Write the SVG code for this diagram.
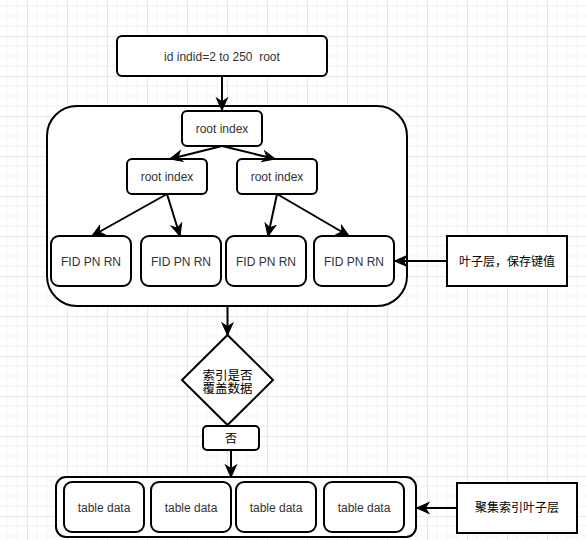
<svg xmlns="http://www.w3.org/2000/svg" width="586" height="540" viewBox="0 0 586 540">
<defs>
<pattern id="grid" patternUnits="userSpaceOnUse" x="27" y="36" width="40" height="40">
<path d="M10,0V40M20,0V40M30,0V40M0,10H40M0,20H40M0,30H40" stroke="#f3f3f3" stroke-width="1" fill="none"/>
<path d="M0.5,0V40M0,0.5H40" stroke="#e6e6e6" stroke-width="1" fill="none"/>
</pattern>
<marker id="arr" markerUnits="userSpaceOnUse" markerWidth="14" markerHeight="14" viewBox="0 0 12 12" refX="11" refY="6" orient="auto">
<path d="M1,1.5 L11,6 L1,10.5 L4,6 Z" fill="#000" stroke="#000" stroke-width="1"/>
</marker>
<style>
.b{fill:#fff;stroke:#000;stroke-width:2}
.t{font-family:"Liberation Sans",Arial,sans-serif;font-size:12px;fill:#333;text-anchor:middle}
.c{font-family:"Noto Sans CJK SC","Liberation Sans",sans-serif;font-size:12px;fill:#000;text-anchor:middle}
.e{fill:none;stroke:#000;stroke-width:2;marker-end:url(#arr)}
</style>
</defs>
<rect width="586" height="540" fill="#fff"/>
<rect width="586" height="540" fill="url(#grid)"/>

<g id="top"><rect class="b" x="117" y="36" width="210" height="40" rx="5"/><text class="t" x="222" y="61">id indid=2 to 250 &#160;root</text></g>
<g id="index-container"><rect class="b" x="47" y="106" width="360" height="200" rx="30"/></g>
<g id="root"><rect class="b" x="182" y="111" width="80" height="35" rx="5"/><text class="t" x="222" y="133">root index</text></g>
<g id="mid-left"><rect class="b" x="127" y="159" width="80" height="35" rx="5"/><text class="t" x="167" y="181">root index</text></g>
<g id="mid-right"><rect class="b" x="237" y="159" width="80" height="35" rx="5"/><text class="t" x="277" y="181">root index</text></g>
<g id="leaf1"><rect class="b" x="51" y="236" width="80" height="50" rx="8"/><text class="t" x="91" y="266">FID PN RN</text></g>
<g id="leaf2"><rect class="b" x="141" y="236" width="80" height="50" rx="8"/><text class="t" x="181" y="266">FID PN RN</text></g>
<g id="leaf3"><rect class="b" x="226" y="236" width="80" height="50" rx="8"/><text class="t" x="266" y="266">FID PN RN</text></g>
<g id="leaf4"><rect class="b" x="314" y="236" width="80" height="50" rx="8"/><text class="t" x="354" y="266">FID PN RN</text></g>
<g id="leaf-label"><rect class="b" x="447" y="236" width="120" height="50"/><text class="c" x="507" y="266">叶子层，保存键值</text></g>
<g id="decision"><path class="b" d="M227.5,335 L273,380 L227.5,425 L182,380 Z"/><text class="c" style="font-size:12.5px"><tspan x="227.5" y="380">索引是否</tspan><tspan x="227.5" y="392.7">覆盖数据</tspan></text></g>
<g id="no"><rect class="b" x="203" y="426" width="56" height="24" rx="4"/><text class="c" x="231" y="443">否</text></g>
<g id="data-container"><rect class="b" x="56" y="477" width="360" height="60" rx="10"/></g>
<g id="data1"><rect class="b" x="64" y="482" width="80" height="50" rx="8"/><text class="t" x="104" y="512">table data</text></g>
<g id="data2"><rect class="b" x="151" y="482" width="80" height="50" rx="8"/><text class="t" x="191" y="512">table data</text></g>
<g id="data3"><rect class="b" x="236" y="482" width="80" height="50" rx="8"/><text class="t" x="276" y="512">table data</text></g>
<g id="data4"><rect class="b" x="324" y="482" width="80" height="50" rx="8"/><text class="t" x="364" y="512">table data</text></g>
<g id="data-label"><rect class="b" x="457" y="483" width="120" height="50"/><text class="c" x="517" y="512">聚集索引叶子层</text></g>

<g id="connectors">
<path class="e" d="M222,76 V110"/>
<path class="e" d="M222,146 L170,159"/>
<path class="e" d="M222,146 L275,159"/>
<path class="e" d="M167,194 L92,236"/>
<path class="e" d="M167,194 L180,236"/>
<path class="e" d="M277,194 L268,236"/>
<path class="e" d="M277,194 L349,236"/>
<path class="e" d="M447,261 H395"/>
<path class="e" d="M227.5,306 V335"/>
<path class="e" d="M231,450 V477"/>
<path class="e" d="M457,508 H417"/>
</g>
</svg>
